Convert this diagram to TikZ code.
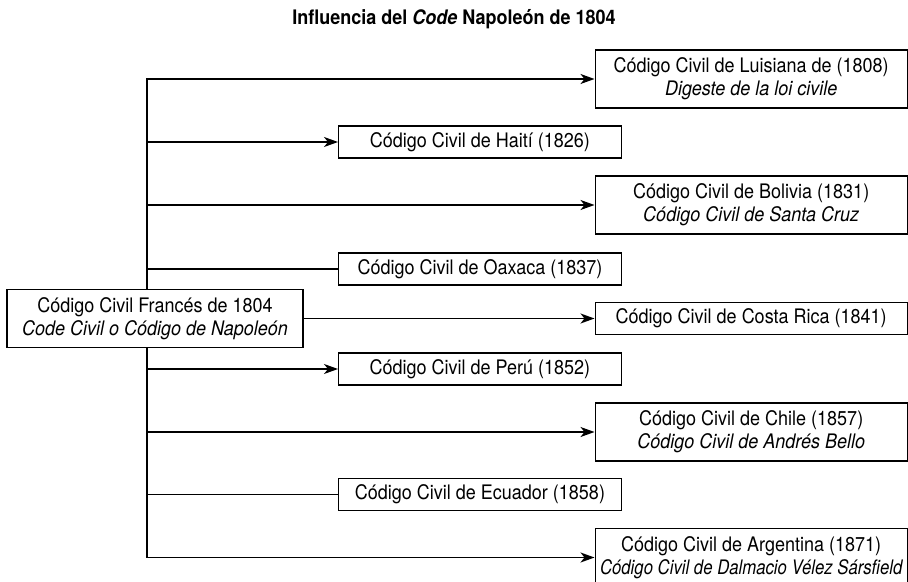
\documentclass[tikz,border=0pt]{standalone}
\usepackage{fontspec}
\setmainfont{TeX Gyre Heros}[FakeStretch=0.9]
\usepackage{graphicx}
\usetikzlibrary{arrows.meta}

\begin{document}
\begin{tikzpicture}[x=0.5pt,y=-0.5pt,
  every node/.style={font=\fontsize{10pt}{11.6pt}\selectfont},
  box/.style={draw, line width=0.7pt, inner sep=1pt, align=center},
  rbox/.style={box, anchor=west, minimum width=156pt},
  mbox/.style={box, anchor=west, minimum width=141.25pt, minimum height=16pt},
  two/.style={minimum height=29pt},
  one/.style={minimum height=16pt},
  arr/.style={line width=0.7pt, -{Stealth[length=7pt,width=5pt,inset=2pt]}},
  link/.style={line width=0.7pt}]
\useasboundingbox (0,0) rectangle (908,582);
\coordinate (trunk) at (147,0);
\node[font=\fontsize{10pt}{11.6pt}\selectfont\bfseries] (title) at (454,19) {Influencia del \textit{Code} Napoleón de 1804};
\node[box, two, minimum width=148pt, fill=white] (frances) at (155,318.5) {Código Civil Francés de 1804\\\textit{Code Civil o Código de Napoleón}};
\node[rbox,two] (luisiana) at (594.5,79) {Código Civil de Luisiana de (1808)\\\textit{Digeste de la loi civile}};
\node[mbox] (haiti) at (338,142) {Código Civil de Haití (1826)};
\node[rbox,two] (bolivia) at (594.5,205) {Código Civil de Bolivia (1831)\\\textit{Código Civil de Santa Cruz}};
\node[mbox] (oaxaca) at (338,269) {Código Civil de Oaxaca (1837)};
\node[rbox,one] (costarica) at (594.5,318.5) {Código Civil de Costa Rica (1841)};
\node[mbox] (peru) at (338,369) {Código Civil de Perú (1852)};
\node[rbox,two] (chile) at (594.5,432) {Código Civil de Chile (1857)\\\textit{Código Civil de Andrés Bello}};
\node[mbox] (ecuador) at (338,494.5) {Código Civil de Ecuador (1858)};
\node[rbox,two] (argentina) at (594.5,557.5) {Código Civil de Argentina (1871)\\\scalebox{0.93}[1]{\itshape Código Civil de Dalmacio Vélez Sársfield}};
\draw[arr] (trunk |- frances.north) |- (luisiana.west);
\draw[arr] (trunk |- frances.south) |- (argentina.west);
\draw[arr] (trunk |- haiti) -- (haiti.west);
\draw[arr] (trunk |- bolivia) -- (bolivia.west);
\draw[link] (trunk |- oaxaca) -- (oaxaca.west);
\draw[arr] (frances.east) -- (costarica.west);
\draw[arr] (trunk |- peru) -- (peru.west);
\draw[arr] (trunk |- chile) -- (chile.west);
\draw[link] (trunk |- ecuador) -- (ecuador.west);
\end{tikzpicture}
\end{document}
